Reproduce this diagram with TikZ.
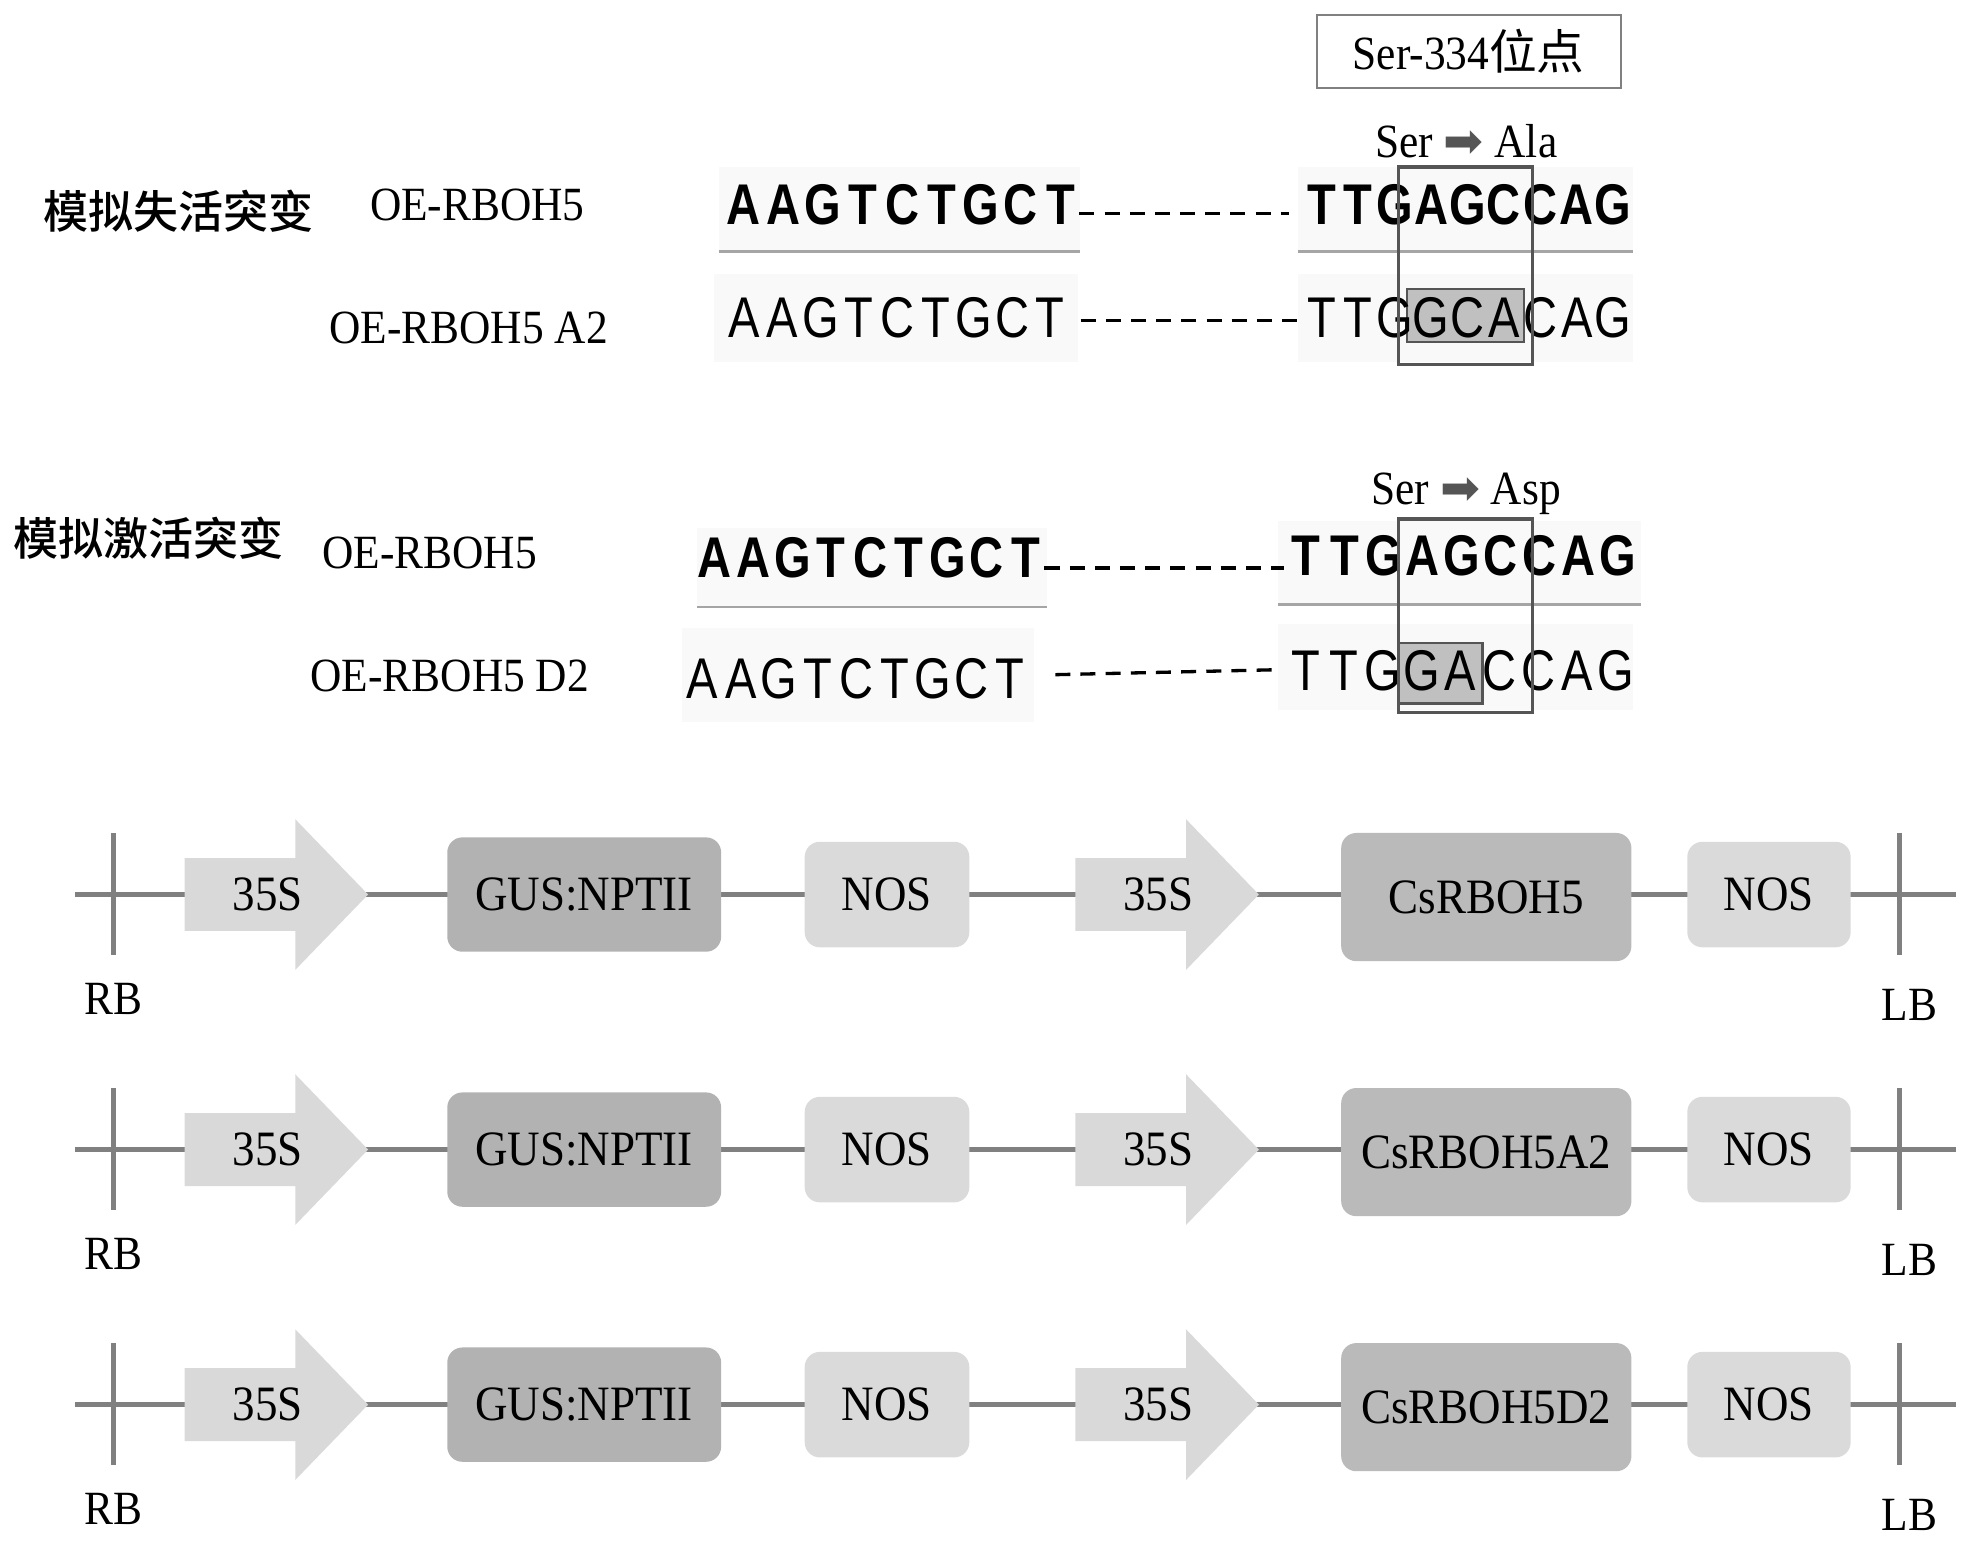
\documentclass[tikz,border=0pt]{standalone}
\usepackage{fontspec}
\setmainfont{Liberation Serif}[FakeStretch=0.91]
\newfontfamily\cjk{Noto Sans CJK SC}
\newfontfamily\cjkmed{Noto Sans CJK SC Medium}
\newfontfamily\basefont{Liberation Sans}[FakeStretch=0.82]
\newfontfamily\symfont{DejaVu Sans}
\usepackage{tikz}
\usetikzlibrary{positioning,calc}
\usepackage{xcolor}
\definecolor{backbone}{RGB}{128,128,128}
\definecolor{palegrey}{RGB}{217,217,217}
\definecolor{gusgrey}{RGB}{178,178,178}
\definecolor{cdsgrey}{RGB}{186,186,186}
\definecolor{nosgrey}{RGB}{218,218,218}
\definecolor{boxedge}{RGB}{85,85,85}
\definecolor{hilite}{RGB}{192,192,192}
\definecolor{seqbg}{RGB}{249,249,249}
\definecolor{rulegrey}{RGB}{165,165,165}

\tikzset{
  lbl/.style={font=\fontsize{10.8}{12}\selectfont, inner sep=1pt},
  grouplbl/.style={font=\fontsize{10.2}{12}\selectfont\cjkmed, inner sep=1pt},
  bb/.style={font=\fontsize{13}{15}\selectfont\basefont\bfseries, inner sep=0pt,
             text height=9.3pt, text depth=0pt},
  br/.style={font=\fontsize{13}{15}\selectfont\basefont, inner sep=0pt,
             text height=9.3pt, text depth=0pt},
  seqdash/.style={black, line width=0.75pt, dash pattern=on 3.4pt off 2.3pt},
  codon/.style={draw=boxedge, line width=0.75pt},
  swapbox/.style={draw=boxedge, fill=hilite, line width=0.5pt},
  part/.style={rounded corners=1.2mm, font=\fontsize{11.2}{12}\selectfont, inner sep=0pt},
}

\begin{document}
\begin{tikzpicture}[x=0.1mm,y=-0.1mm]
\useasboundingbox (0,0) rectangle (1568,1231);

% site label
\node[draw=gray, line width=0.5pt, minimum width=24.2mm, minimum height=5.8mm,
      font=\fontsize{10.8}{12}\selectfont] (site) at (1169,41) {Ser-334{\cjk 位点}};

% group and line labels
\node[grouplbl] (dead) at (142,168) {模拟失活突变};
\node[grouplbl] (live) at (118,428) {模拟激活突变};
\node[lbl] (oe1) at (380,163) {OE-RBOH5};
\node[lbl] (oea) at (373,261) {OE-RBOH5 A2};
\node[lbl] (oe2) at (342,440) {OE-RBOH5};
\node[lbl] (oed) at (358,538) {OE-RBOH5 D2};
\node[lbl] (subA) at (1167,112) {Ser {\symfont\color{boxedge}➡} Ala};
\node[lbl] (subD) at (1167,393) {Ser {\symfont\color{boxedge}➡} Asp};

% chromatogram backgrounds
\fill[seqbg] (572,133) rectangle (860,200);
\fill[seqbg] (1033,133) rectangle (1300,200);
\fill[seqbg] (568,218) rectangle (858,288);
\fill[seqbg] (1033,218) rectangle (1300,288);
\fill[seqbg] (555,420) rectangle (833,483);
\fill[seqbg] (1017,415) rectangle (1306,481);
\fill[seqbg] (543,500) rectangle (823,575);
\fill[seqbg] (1017,497) rectangle (1300,565);
\draw[rulegrey, line width=0.6pt] (572,200) -- (860,200);
\draw[rulegrey, line width=0.6pt] (1033,200) -- (1300,200);
\draw[rulegrey, line width=0.6pt] (555,483) -- (833,483);
\draw[rulegrey, line width=0.6pt] (1017,481) -- (1306,481);

% mutated bases
\draw[swapbox] (1120,230) rectangle (1213,272);
\draw[swapbox] (1113,512) rectangle (1180,560);

% sequences
\foreach \nm/\x/\y/\p/\st/\s in {
    wa/592/162/31.5/bb/{A,A,G,T,C,T,G,C,T},
    wb/1052/162/29/bb/{T,T,G,A,G,C,C,A,G},
    aa/592/252/30.5/br/{A,A,G,T,C,T,G,C,T},
    ab/1052/252/29/br/{T,T,G,G,C,A,C,A,G},
    va/569/443/30.9/bb/{A,A,G,T,C,T,G,C,T},
    vb/1039/442/31.1/bb/{T,T,G,A,G,C,C,A,G},
    da/559/540/30.6/br/{A,A,G,T,C,T,G,C,T},
    db/1039/533/30.9/br/{T,T,G,G,A,C,C,A,G}}
  \foreach \b [count=\i] in \s
    \node[\st] (\nm\i) at ({\x+(\i-1)*\p},\y) {\b};

\draw[seqdash] ([xshift=0.3mm,yshift=-0.8mm]wa9.east) -- ([xshift=-1.4mm,yshift=-0.8mm]wb1.west);
\draw[seqdash] ([xshift=1.2mm,yshift=-0.3mm]aa9.east) -- ([xshift=-0.6mm,yshift=-0.3mm]ab1.west);
\draw[seqdash] ([xshift=0.3mm,yshift=-0.9mm]va9.east) -- ([xshift=-0.5mm,yshift=-1.0mm]vb1.west);
\draw[seqdash] ([xshift=2.4mm,yshift=0.3mm]da9.east) -- ([xshift=-0.8mm,yshift=0mm]db1.west);

% codon frames
\draw[codon] (1113,133) rectangle (1220,290);
\draw[codon] (1113,413) rectangle (1220,567);

% T-DNA constructs
\foreach \row/\y/\gene in {1/712/CsRBOH5, 2/915/CsRBOH5A2, 3/1118/CsRBOH5D2} {
  \coordinate (rb\row) at (60,\y);
  \coordinate (lb\row) at (1557,\y);
  \draw[backbone, line width=1.1pt] (rb\row) -- (lb\row);
  \draw[backbone, line width=1.1pt] (90,\y-49) -- (90,\y+48);
  \draw[backbone, line width=1.1pt] (1512,\y-49) -- (1512,\y+48);
  \node[lbl] (rbt\row) at (90,\y+83) {RB};
  \node[lbl] (lbt\row) at (1520,\y+88) {LB};
  \foreach \px/\k in {147/a,856/b} {
    \fill[palegrey] (\px,\y-29) -- (\px+88,\y-29) -- (\px+88,\y-60) -- (\px+146,\y)
      -- (\px+88,\y+60) -- (\px+88,\y+29) -- (\px,\y+29) -- cycle;
    \node[part] (p\k\row) at (\px+66,\y) {35S};
  }
  \node[part, fill=gusgrey, minimum width=21.8mm, minimum height=9.1mm] (gus\row) at (465,\y) {GUS:NPTII};
  \node[part, fill=nosgrey, minimum width=13.1mm, minimum height=8.4mm] (nosa\row) at (706,\y) {NOS};
  \node[part, fill=cdsgrey, minimum width=23.1mm, minimum height=10.2mm] (cds\row) at (1183,\y+2) {\gene};
  \node[part, fill=nosgrey, minimum width=13.0mm, minimum height=8.4mm] (nosb\row) at (1408,\y) {NOS};
}
\end{tikzpicture}
\end{document}
